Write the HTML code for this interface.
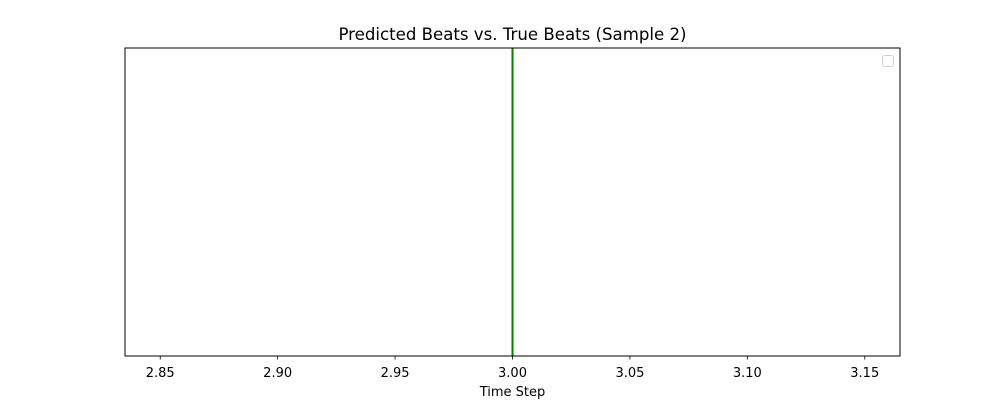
<!DOCTYPE html>
<html>
<head>
<meta charset="utf-8">
<style>
html,body{margin:0;padding:0;background:#fff;}
svg{display:block;font-family:"DejaVu Sans","Liberation Sans",sans-serif;}
</style>
</head>
<body>
<svg id="chart" width="1000" height="400" viewBox="0 0 1000 400">
  <rect x="0" y="0" width="1000" height="400" fill="#fff"/>
  <text x="512.5" y="40" text-anchor="middle" font-size="16.6" fill="#000">Predicted Beats vs. True Beats (Sample 2)</text>
  <g id="marks"></g>
  <rect x="125" y="48" width="775" height="308" fill="none" stroke="#000" stroke-width="1"/>
  <g id="xticks"></g>
  <text x="512.5" y="396" text-anchor="middle" font-size="13" fill="#000">Time Step</text>
  <rect x="882.5" y="55.5" width="11" height="11" rx="2" fill="#fff" stroke="#d0d0d0" stroke-width="1"/>
</svg>
<script>
const xTicks = [2.85, 2.90, 2.95, 3.00, 3.05, 3.10, 3.15];
const xTickLabels = ["2.85", "2.90", "2.95", "3.00", "3.05", "3.10", "3.15"];
const trueBeats = [3.0];
const xDomain = [2.835, 3.165];

const L = 125, R = 900, T = 48, B = 356;
function xScale(v){ return L + (v - xDomain[0]) / (xDomain[1] - xDomain[0]) * (R - L); }
const NS = "http://www.w3.org/2000/svg";
const marks = document.getElementById('marks');
trueBeats.forEach(function(b){
  const ln = document.createElementNS(NS, 'line');
  ln.setAttribute('x1', xScale(b)); ln.setAttribute('x2', xScale(b));
  ln.setAttribute('y1', T); ln.setAttribute('y2', B);
  ln.setAttribute('stroke', '#008000'); ln.setAttribute('stroke-width', '2');
  
  
  marks.appendChild(ln);
});
const xt = document.getElementById('xticks');
xTicks.forEach(function(t, i){
  const x = xScale(t);
  const tk = document.createElementNS(NS, 'line');
  tk.setAttribute('x1', x); tk.setAttribute('x2', x);
  tk.setAttribute('y1', B); tk.setAttribute('y2', B + 3.5);
  tk.setAttribute('stroke', '#000'); tk.setAttribute('stroke-width', '0.8');
  
  
  xt.appendChild(tk);
  const tx = document.createElementNS(NS, 'text');
  tx.setAttribute('x', x); tx.setAttribute('y', B + 21);
  tx.setAttribute('text-anchor', 'middle'); tx.setAttribute('font-size', '13');
  tx.textContent = xTickLabels[i];
  
  
  xt.appendChild(tx);
});
</script>
</body>
</html>
